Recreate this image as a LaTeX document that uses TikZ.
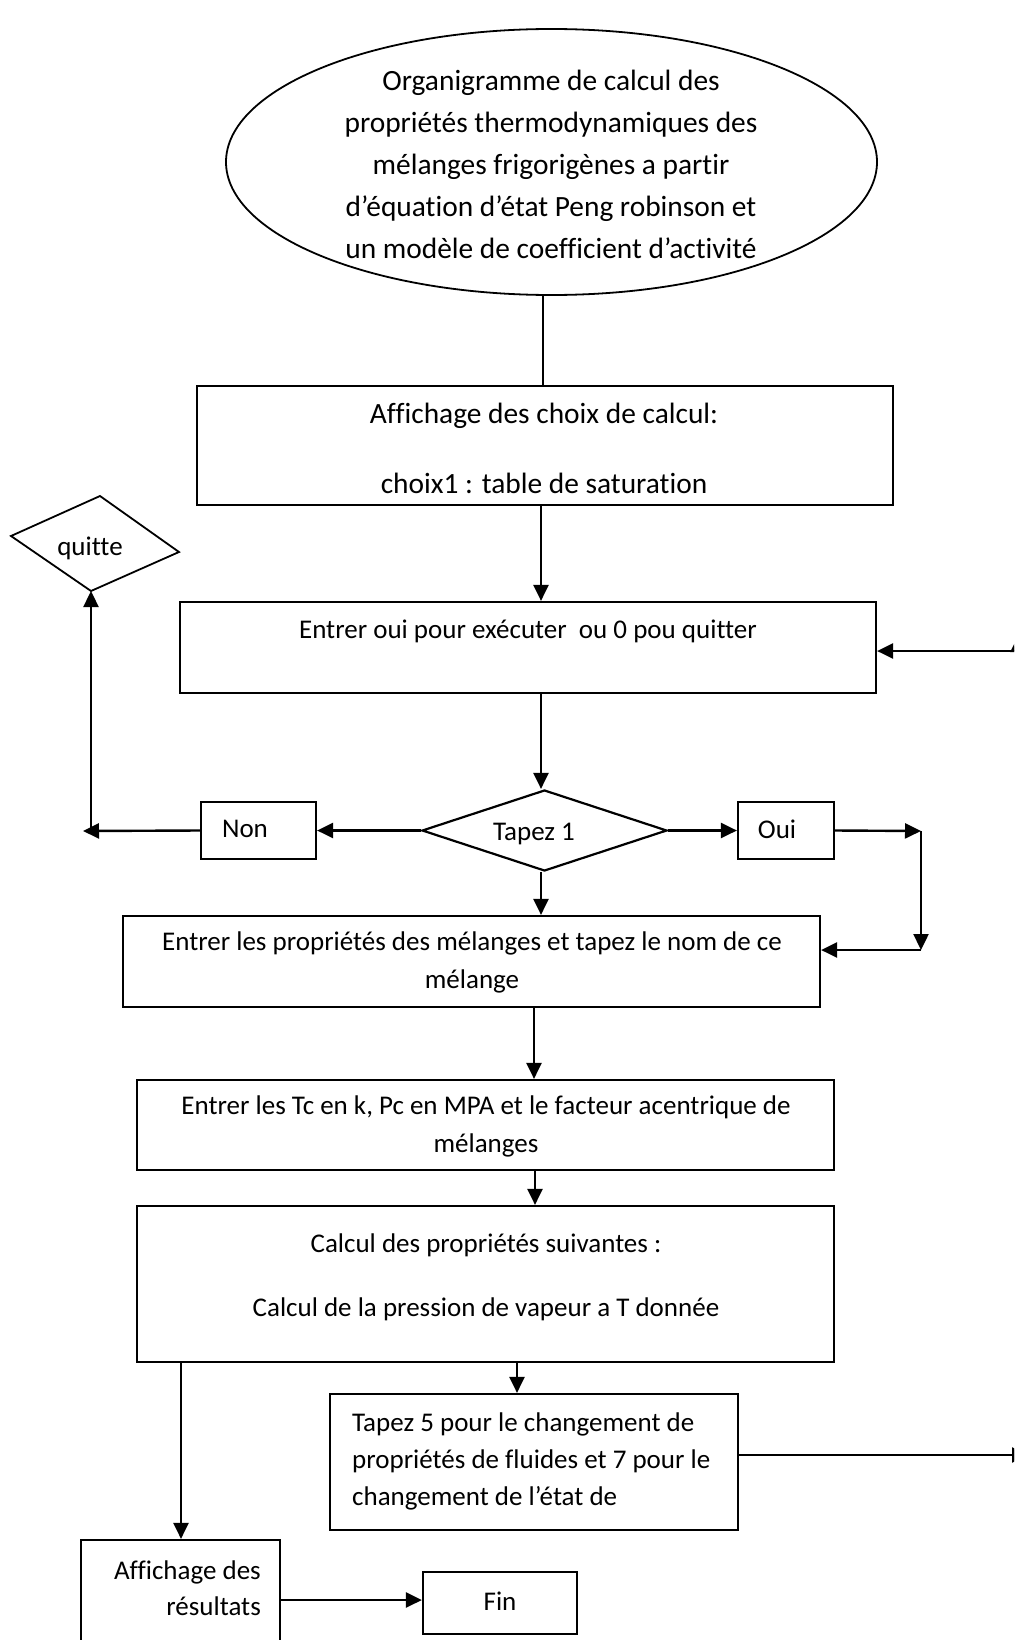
\documentclass[tikz,border=0pt]{standalone}
\usepackage{fontspec}
\setmainfont[RawFeature={-liga;-clig;-calt;-dlig}]{Carlito}
\usetikzlibrary{shapes.geometric,arrows.meta}

\begin{document}
\begin{tikzpicture}[x=1pt,y=-1pt,
  box/.style={draw, line width=2.2pt, inner sep=0pt},
  ln/.style={line width=2.4pt},
  arr/.style={line width=2.4pt, -{Triangle[length=16pt,width=15pt]}},
  txt/.style={inner sep=0pt, font=\fontsize{27}{38}\selectfont},
  big/.style={inner sep=0pt, font=\fontsize{29.4}{42}\selectfont},
]
\useasboundingbox (0,0) rectangle (1014,1640);
\clip (0,0) rectangle (1014,1640);

% title ellipse
\node[draw, ellipse, line width=1.8pt, inner sep=0pt,
      minimum width=651pt, minimum height=266pt] (e) at (551.5,162) {};
\node[big, align=center] (et) at (551,164)
  {Organigramme de calcul des\\
   propriétés thermodynamiques des\\
   mélanges frigorigènes a partir\\
   d’équation d’état Peng robinson et\\
   un modèle de coefficient d’activité};

% boxes
\node[box, minimum width=696pt, minimum height=119pt] (b1) at (545,445.5) {};
\node[big] (b1a) at (544,416) {Affichage des choix de calcul:};
\node[big] (b1b) at (544,483) {choix1 : table de saturation};

\node[box, minimum width=696pt, minimum height=91pt] (b2) at (528,647.5) {};
\node[txt] (b2t) at (528,631) {Entrer oui pour exécuter\ \ ou 0 pou quitter};

\node[draw, diamond, line width=2.2pt, inner sep=0pt,
      minimum width=245pt, minimum height=81pt] (d) at (544.5,830.5) {};
\node[txt] (dt) at (534,834) {Tapez 1};

\node[box, minimum width=115pt, minimum height=57pt] (non) at (258.5,830.5) {};
\node[txt] (nont) at (245,829) {Non};
\node[box, minimum width=96pt, minimum height=57pt] (oui) at (786,830.5) {};
\node[txt] (ouit) at (777,829) {Oui};

% skewed exit diamond
\coordinate (ql) at (11,536);
\coordinate (qt) at (100,496);
\coordinate (qr) at (179,552);
\coordinate (qb) at (91,591);
\draw[line width=1.8pt] (ql) -- (qt) -- (qr) -- (qb) -- cycle;
\node[txt] (qtxt) at (90,548) {quitte};

\node[box, minimum width=697pt, minimum height=91pt] (b3) at (471.5,961.5) {};
\node[txt, align=center] (b3t) at (472,962)
  {Entrer les propriétés des mélanges et tapez le nom de ce\\ mélange};

\node[box, minimum width=697pt, minimum height=90pt] (b4) at (485.5,1125) {};
\node[txt, align=center] (b4t) at (486,1126)
  {Entrer les Tc en k, Pc en MPA et le facteur acentrique de\\ mélanges};

\node[box, minimum width=697pt, minimum height=156pt] (b5) at (485.5,1284) {};
\node[txt] (b5a) at (486,1245) {Calcul des propriétés suivantes :};
\node[txt] (b5b) at (486,1309) {Calcul de la pression de vapeur a T donnée};

\node[box, minimum width=408pt, minimum height=136pt] (b6) at (534,1462) {};
\node[txt, font=\fontsize{27}{37}\selectfont, align=left, anchor=west] (b6t) at (352,1461)
  {Tapez 5 pour le changement de\\
   propriétés de fluides et 7 pour le\\
   changement de l’état de};

\node[box, minimum width=199pt, minimum height=120pt] (aff) at (180.5,1600) {};
\node[txt, font=\fontsize{27}{36}\selectfont, align=right, anchor=east] (afft) at (261,1588)
  {Affichage des\\ résultats};

\node[box, minimum width=154pt, minimum height=62pt] (fin) at (500,1603) {};
\node[txt] (fint) at (500,1601) {Fin};

% column and corner points for the connectors
\coordinate (xa) at (543,0);
\coordinate (xb) at (541,0);
\coordinate (xc) at (534,0);
\coordinate (xd) at (535,0);
\coordinate (xe) at (517,0);
\coordinate (xf) at (181,0);
\coordinate (xq) at (91,0);
\coordinate (lft) at (83,831);
\coordinate (or1) at (921,831);
\coordinate (or2) at (921,950);
\coordinate (rb) at (1028,1455);
\coordinate (rv) at (1018,1455);
\coordinate (rt) at (1018,636);
\coordinate (rh) at (1018,651);

% connectors
\draw[ln]  (xa |- e.south) -- (xa |- b1.north);
\draw[arr] (xb |- b1.south) -- (xb |- b2.north);
\draw[arr] (xb |- b2.south) -- (xb |- d.north);
\draw[arr] (d.west) -- (non.east);
\draw[arr] (non.west) -- (lft);
\draw[arr] (xq |- non.west) -- (qb);
\draw[arr] (d.east) -- (oui.west);
\draw[arr] (oui.east) -- (or1);
\draw[arr] (or1) -- (or2);
\draw[arr] (or2) -- (or2 -| b3.east);
\draw[arr] (xb |- d.south) -- (xb |- b3.north);
\draw[arr] (xc |- b3.south) -- (xc |- b4.north);
\draw[arr] (xd |- b4.south) -- (xd |- b5.north);
\draw[arr] (xe |- b5.south) -- (xe |- b6.north);
\draw[arr] (rb -| b6.east) -- (rb);
\draw[arr] (rv) -- (rt);
\draw[arr] (rh) -- (rh -| b2.east);
\draw[arr] (xf |- b5.south) -- (xf |- aff.north);
\draw[arr] (aff.east) -- (aff.east -| fin.west);
\end{tikzpicture}
\end{document}
